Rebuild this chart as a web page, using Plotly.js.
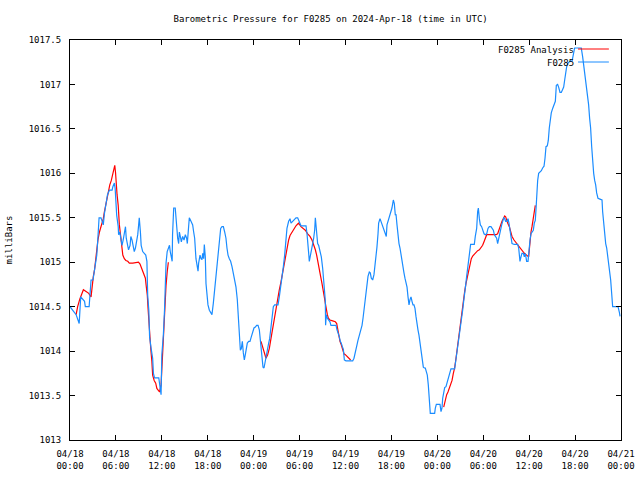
<!DOCTYPE html>
<html>
<head>
<meta charset="utf-8">
<script src="https://cdn.plot.ly/plotly-3.0.1.min.js"></script>
<style>html,body{margin:0;padding:0;background:#fff;}#chart{width:640px;height:480px;}</style>
</head>
<body>
<div id="chart"></div>
<script>
// Hours since 2024-04-18 00:00 UTC; null marks a gap in the analysis series
var analysisHours = [
  0.8,1.0,1.3,1.6,1.75,2.1,2.45,2.75,2.9,3.05,3.2,3.3,3.5,3.65,3.85,4.0,4.2,4.35,4.5,4.7,4.9,5.05,5.2,5.4,5.55,5.75,5.85,5.95,6.0,6.15,6.3,6.35,6.45,6.6,6.7,6.8,6.9,7.1,7.3,7.55,7.75,8.2,8.6,8.95,9.15,9.3,9.5,9.65,9.85,9.95,10.1,10.2,10.3,10.4,10.55,10.7,10.8,11.0,11.2,11.35,11.55,11.7,11.9,12.0,12.15,12.3,12.4,12.55,12.7,12.85,
  null,
  24.96,25.18,25.39,25.61,25.83,26.05,26.26,26.48,26.70,26.92,27.14,27.35,27.57,27.79,28.01,28.22,28.35,28.57,28.75,29.01,29.31,29.53,29.75,29.88,30.18,30.49,30.75,31.06,31.36,31.62,31.88,32.06,32.23,32.41,32.58,32.75,32.93,33.10,33.23,33.36,33.49,33.63,33.76,33.97,34.32,34.67,34.85,34.98,35.11,35.28,35.45,35.63,35.80,35.98,36.19,36.41,36.67,
  null,
  48.83,49.04,49.22,49.39,49.57,49.74,49.92,50.09,50.26,50.44,50.57,50.70,50.87,51.0,51.13,51.31,51.44,51.57,51.74,51.92,52.09,52.27,52.44,52.62,52.83,53.05,53.27,53.49,53.70,53.92,54.10,54.27,54.45,54.62,54.79,55.01,55.23,55.45,55.66,55.88,56.10,56.27,56.45,56.62,56.80,56.93,57.06,57.19,57.41,57.58,57.76,58.02,58.28,58.54,58.80,59.06,59.37,59.67,59.93,60.02,60.11,60.24,60.37,60.46,60.59,60.72,60.80
];
var analysisPressure = [
  1014.41,1014.50,1014.59,1014.66,1014.69,1014.67,1014.65,1014.61,1014.74,1014.84,1014.91,1014.99,1015.08,1015.25,1015.34,1015.38,1015.44,1015.49,1015.57,1015.66,1015.76,1015.81,1015.87,1015.92,1015.98,1016.07,1016.09,1016.01,1015.91,1015.76,1015.64,1015.51,1015.42,1015.31,1015.21,1015.14,1015.08,1015.04,1015.02,1015.01,1014.99,1014.99,1015.00,1015.00,1014.98,1014.95,1014.91,1014.88,1014.82,1014.74,1014.63,1014.48,1014.33,1014.16,1014.03,1013.88,1013.73,1013.67,1013.64,1013.58,1013.56,1013.54,1013.62,1013.79,1014.07,1014.33,1014.55,1014.74,1014.89,1015.00,
  null,
  1014.11,1014.05,1013.98,1013.92,1013.96,1014.03,1014.14,1014.26,1014.37,1014.48,1014.59,1014.69,1014.78,1014.89,1015.01,1015.08,1015.15,1015.25,1015.30,1015.34,1015.38,1015.41,1015.43,1015.44,1015.40,1015.38,1015.36,1015.32,1015.29,1015.25,1015.19,1015.14,1015.08,1015.01,1014.93,1014.84,1014.76,1014.69,1014.61,1014.54,1014.46,1014.41,1014.37,1014.35,1014.34,1014.33,1014.31,1014.24,1014.16,1014.11,1014.07,1014.01,1013.97,1013.96,1013.94,1013.92,1013.90,
  null,
  1013.37,1013.45,1013.51,1013.54,1013.58,1013.62,1013.67,1013.75,1013.81,1013.92,1014.01,1014.11,1014.20,1014.29,1014.37,1014.50,1014.59,1014.67,1014.76,1014.84,1014.91,1014.99,1015.04,1015.07,1015.09,1015.11,1015.13,1015.14,1015.16,1015.19,1015.23,1015.27,1015.31,1015.31,1015.31,1015.31,1015.31,1015.31,1015.31,1015.32,1015.38,1015.42,1015.46,1015.49,1015.52,1015.51,1015.47,1015.44,1015.40,1015.34,1015.29,1015.25,1015.22,1015.19,1015.16,1015.13,1015.10,1015.08,1015.06,1015.14,1015.27,1015.34,1015.40,1015.46,1015.51,1015.59,1015.64
];

var stationHours = [
  0.0,0.5,0.8,1.2,1.4,1.9,2.0,2.5,2.6,2.75,3.0,3.2,3.3,3.5,3.6,3.8,4.05,4.2,4.35,4.5,4.7,4.9,5.15,5.5,5.6,5.8,5.9,6.0,6.1,6.3,6.35,6.5,6.65,6.8,6.95,7.1,7.25,7.35,7.55,7.65,7.85,7.95,8.1,8.3,8.4,8.55,8.7,8.85,8.95,9.05,9.2,9.3,9.5,9.7,9.9,10.05,10.15,10.3,10.4,10.6,10.8,10.9,11.05,11.6,11.75,11.9,12.0,12.2,12.35,12.45,12.55,12.7,12.8,13.0,13.1,13.35,13.4,13.55,13.75,13.85,
  14.07,14.20,14.29,14.46,14.55,14.72,14.90,15.07,15.24,15.33,15.46,15.59,15.81,16.03,16.16,16.29,16.46,16.59,16.73,16.81,16.99,17.12,17.25,17.34,17.47,17.55,17.68,17.77,17.90,18.03,18.21,18.38,18.55,18.73,18.90,19.08,19.25,19.43,19.56,19.69,19.86,20.04,20.21,20.38,20.51,20.65,20.82,20.99,21.17,21.34,21.52,21.69,21.86,22.0,22.13,22.26,22.39,22.52,22.65,22.78,22.91,23.04,23.17,23.35,23.52,23.69,23.87,24.04,24.22,24.39,24.57,24.74,24.91,25.09,25.22,25.35,25.48,25.61,25.78,25.96,26.09,26.22,26.35,26.48,26.57,26.74,27.0,27.18,27.35,27.53,27.70,27.88,28.05,
  28.22,28.35,28.57,28.75,28.88,29.10,29.31,29.53,29.75,29.97,30.18,30.62,30.84,30.97,31.10,31.19,31.27,31.40,31.53,31.71,31.84,31.97,32.06,32.14,32.23,32.36,32.49,32.67,32.84,33.02,33.15,33.28,33.36,33.40,33.49,33.63,33.76,33.97,34.10,34.54,34.76,34.89,35.06,35.19,35.32,35.45,35.59,35.72,35.85,36.06,36.72,36.94,37.11,37.24,37.37,37.50,37.63,37.76,37.89,38.02,38.16,38.29,38.42,38.55,38.68,38.81,38.94,39.11,39.24,39.37,39.55,39.72,39.85,39.98,40.11,40.25,40.33,40.51,40.64,40.77,40.94,41.07,41.20,41.33,41.42,41.55,41.73,41.90,42.07,42.25,42.38,42.51,
  42.60,42.73,42.86,42.99,43.12,43.25,43.38,43.51,43.64,43.77,43.90,44.04,44.17,44.30,44.43,44.56,44.69,44.82,44.95,45.08,45.21,45.34,45.47,45.60,45.73,45.86,46.0,46.17,46.30,46.43,46.56,46.69,46.82,46.91,47.0,47.08,47.39,47.65,47.74,47.87,48.17,48.35,48.48,48.61,48.70,48.83,48.96,49.13,49.26,49.39,49.52,49.65,49.78,50.09,50.26,50.39,50.52,50.66,50.79,50.92,51.05,51.18,51.31,51.44,51.57,51.70,51.83,51.96,52.09,52.22,52.35,52.62,52.83,52.96,53.14,53.27,53.36,53.49,53.62,53.79,53.92,54.10,54.27,54.45,54.62,54.79,55.01,55.19,55.32,55.45,55.58,55.75,55.88,56.01,56.14,56.27,56.41,56.54,56.67,56.80,56.93,
  57.10,57.23,57.36,57.49,57.62,57.76,58.06,58.50,58.63,58.80,58.93,59.06,59.24,59.37,59.50,59.67,59.85,59.93,60.11,60.24,60.37,60.54,60.67,60.80,60.89,60.98,61.11,61.24,61.41,61.59,61.76,61.94,62.07,62.20,62.37,62.50,62.63,62.76,62.89,63.07,63.24,63.42,63.55,63.72,63.85,64.03,64.20,64.38,64.51,64.64,64.77,64.90,65.07,65.33,65.60,65.77,65.94,66.12,66.55,66.81,66.99,67.16,67.34,67.51,67.64,67.77,67.90,68.03,68.17,68.30,68.43,68.56,68.69,68.82,68.99,69.25,69.52,69.60,69.73,69.86,70.0,70.13,70.26,70.39,70.52,70.65,70.78,70.91,71.26,71.61,71.78,71.87
];
var stationPressure = [
  1014.50,1014.45,1014.41,1014.31,1014.61,1014.56,1014.50,1014.50,1014.63,1014.80,1014.80,1014.91,1014.99,1015.08,1015.21,1015.50,1015.50,1015.46,1015.42,1015.55,1015.64,1015.76,1015.81,1015.81,1015.85,1015.89,1015.83,1015.68,1015.53,1015.40,1015.31,1015.34,1015.27,1015.19,1015.25,1015.31,1015.40,1015.27,1015.16,1015.14,1015.19,1015.29,1015.25,1015.18,1015.12,1015.16,1015.22,1015.31,1015.40,1015.50,1015.34,1015.19,1015.12,1015.10,1015.08,1015.01,1014.63,1014.46,1014.16,1014.03,1013.92,1013.75,1013.70,1013.70,1013.62,1013.51,1013.96,1014.18,1014.46,1014.73,1014.99,1015.12,1015.14,1015.19,1015.12,1015.01,1015.31,1015.61,1015.61,1015.46,
  1015.27,1015.21,1015.34,1015.27,1015.23,1015.29,1015.25,1015.31,1015.27,1015.21,1015.38,1015.50,1015.46,1015.42,1015.34,1015.27,1015.04,1014.97,1014.90,1014.99,1015.08,1015.04,1015.03,1015.10,1015.04,1015.20,1015.06,1014.76,1014.58,1014.52,1014.46,1014.44,1014.41,1014.54,1014.69,1014.84,1015.06,1015.23,1015.34,1015.38,1015.40,1015.40,1015.34,1015.27,1015.16,1015.08,1015.04,1015.01,1014.95,1014.88,1014.82,1014.72,1014.58,1014.35,1014.14,1014.01,1014.03,1014.11,1013.98,1013.90,1013.96,1014.05,1014.09,1014.11,1014.11,1014.16,1014.22,1014.26,1014.27,1014.29,1014.29,1014.24,1014.09,1013.96,1013.82,1013.81,1013.88,1013.92,1013.99,1014.09,1014.14,1014.24,1014.33,1014.41,1014.50,1014.52,1014.52,1014.52,1014.61,1014.71,1014.80,1014.95,1015.08,
  1015.32,1015.38,1015.46,1015.49,1015.44,1015.46,1015.47,1015.50,1015.50,1015.46,1015.41,1015.41,1015.41,1015.32,1015.23,1015.10,1015.01,1015.06,1015.14,1015.21,1015.27,1015.36,1015.50,1015.44,1015.36,1015.21,1015.19,1015.12,1015.06,1014.93,1014.80,1014.69,1014.57,1014.29,1014.41,1014.37,1014.35,1014.33,1014.29,1014.29,1014.29,1014.24,1014.20,1014.16,1014.11,1014.09,1014.05,1014.02,1013.90,1013.89,1013.89,1013.89,1013.92,1013.96,1014.01,1014.07,1014.12,1014.16,1014.20,1014.24,1014.29,1014.37,1014.46,1014.56,1014.67,1014.76,1014.84,1014.89,1014.88,1014.82,1014.80,1014.86,1014.95,1015.04,1015.17,1015.32,1015.44,1015.49,1015.46,1015.42,1015.40,1015.36,1015.32,1015.29,1015.42,1015.46,1015.49,1015.55,1015.61,1015.70,1015.66,1015.53,
  1015.54,1015.42,1015.29,1015.21,1015.16,1015.08,1015.01,1014.95,1014.88,1014.82,1014.77,1014.72,1014.61,1014.52,1014.58,1014.61,1014.56,1014.52,1014.52,1014.48,1014.39,1014.29,1014.24,1014.18,1014.11,1014.01,1013.92,1013.82,1013.81,1013.81,1013.77,1013.73,1013.62,1013.51,1013.37,1013.30,1013.30,1013.30,1013.36,1013.40,1013.40,1013.40,1013.32,1013.36,1013.47,1013.54,1013.59,1013.60,1013.64,1013.69,1013.73,1013.77,1013.80,1013.80,1013.80,1013.88,1013.96,1014.03,1014.09,1014.18,1014.27,1014.37,1014.46,1014.56,1014.63,1014.74,1014.84,1014.95,1015.06,1015.16,1015.20,1015.20,1015.20,1015.29,1015.38,1015.57,1015.61,1015.49,1015.42,1015.40,1015.36,1015.32,1015.31,1015.32,1015.38,1015.40,1015.40,1015.38,1015.36,1015.31,1015.29,1015.27,1015.21,1015.27,1015.34,1015.38,1015.42,1015.46,1015.50,1015.49,1015.46,
  1015.46,1015.49,1015.44,1015.36,1015.27,1015.21,1015.20,1015.20,1015.16,1015.01,1015.06,1015.10,1015.10,1015.06,1015.10,1015.01,1015.01,1015.10,1015.25,1015.32,1015.34,1015.36,1015.44,1015.47,1015.59,1015.79,1015.92,1016.00,1016.01,1016.03,1016.06,1016.08,1016.17,1016.30,1016.31,1016.37,1016.51,1016.63,1016.68,1016.73,1016.77,1016.81,1016.99,1017.00,1016.97,1016.91,1016.91,1016.94,1016.97,1017.05,1017.13,1017.20,1017.24,1017.26,1017.26,1017.35,1017.41,1017.41,1017.41,1017.41,1017.31,1017.20,1017.09,1016.97,1016.86,1016.77,1016.62,1016.51,1016.30,1016.11,1016.00,1015.92,1015.87,1015.78,1015.72,1015.71,1015.70,1015.57,1015.42,1015.29,1015.21,1015.16,1015.08,1014.99,1014.91,1014.80,1014.65,1014.50,1014.50,1014.50,1014.44,1014.39
];

var xTickHours = [0,6,12,18,24,30,36,42,48,54,60,66,72];
var xTickLabels = ['04/18<br>00:00','04/18<br>06:00','04/18<br>12:00','04/18<br>18:00','04/19<br>00:00','04/19<br>06:00','04/19<br>12:00','04/19<br>18:00','04/20<br>00:00','04/20<br>06:00','04/20<br>12:00','04/20<br>18:00','04/21<br>00:00'];
var yTickValues = [1013,1013.5,1014,1014.5,1015,1015.5,1016,1016.5,1017,1017.5];
var yTickLabels = ['1013','1013.5','1014','1014.5','1015','1015.5','1016','1016.5','1017','1017.5'];
var seriesNames = ['F0285 Analysis','F0285'];

var baseMs = Date.UTC(2024,3,18,0,0,0);
function toDate(h){
  if (h === null) return null;
  return new Date(baseMs + h*3600000).toISOString().replace('T',' ').replace('Z','');
}

var FONT = {family:'DejaVu Sans Mono, monospace', size:9, color:'#000'};
var RED = '#ff0000', BLUE = '#1a8cff';

var traces = [
  {x: analysisHours.map(toDate), y: analysisPressure, type:'scatter', mode:'lines',
   name: seriesNames[0], connectgaps:false, line:{color:RED, width:1.2}},
  {x: stationHours.map(toDate), y: stationPressure, type:'scatter', mode:'lines',
   name: seriesNames[1], line:{color:BLUE, width:1.2}}
];

var layout = {
  width:640, height:480,
  margin:{l:70, r:19, t:40, b:40, pad:0},
  paper_bgcolor:'#fff', plot_bgcolor:'#fff',
  font: FONT,
  showlegend:false,
  title:{text:'Barometric Pressure for F0285 on 2024-Apr-18 (time in UTC)', font:FONT,
         xref:'paper', x:0.473, xanchor:'center', yref:'container', y:1-19/480, yanchor:'middle'},
  xaxis:{type:'date', range:[toDate(0), toDate(72)], tickvals:xTickHours.map(toDate), ticktext:xTickLabels,
         showgrid:false, zeroline:false, showline:true, linecolor:'#000', linewidth:1, mirror:'allticks',
         ticks:'inside', ticklen:5, tickcolor:'#000', tickfont:FONT, ticklabelstandoff:5},
  yaxis:{range:[1013,1017.5], tickvals:yTickValues, ticktext:yTickLabels,
         showgrid:false, zeroline:false, showline:true, linecolor:'#000', linewidth:1, mirror:'allticks',
         ticks:'inside', ticklen:5, tickcolor:'#000', tickfont:FONT, ticklabelstandoff:6,
         title:{text:'milliBars', font:FONT, standoff:14}},
  annotations:[
    {xref:'paper', yref:'paper', x:0.918, y:0.975, xanchor:'right', yanchor:'middle', text:seriesNames[0], showarrow:false, font:FONT},
    {xref:'paper', yref:'paper', x:0.918, y:0.9425, xanchor:'right', yanchor:'middle', text:seriesNames[1], showarrow:false, font:FONT}
  ],
  shapes:[
    {type:'line', xref:'paper', yref:'paper', x0:0.922, x1:0.978, y0:0.9775, y1:0.9775, line:{color:RED, width:1}},
    {type:'line', xref:'paper', yref:'paper', x0:0.922, x1:0.978, y0:0.945, y1:0.945, line:{color:BLUE, width:1}}
  ]
};

Plotly.newPlot('chart', traces, layout, {staticPlot:true, displayModeBar:false});
</script>
</body>
</html>
